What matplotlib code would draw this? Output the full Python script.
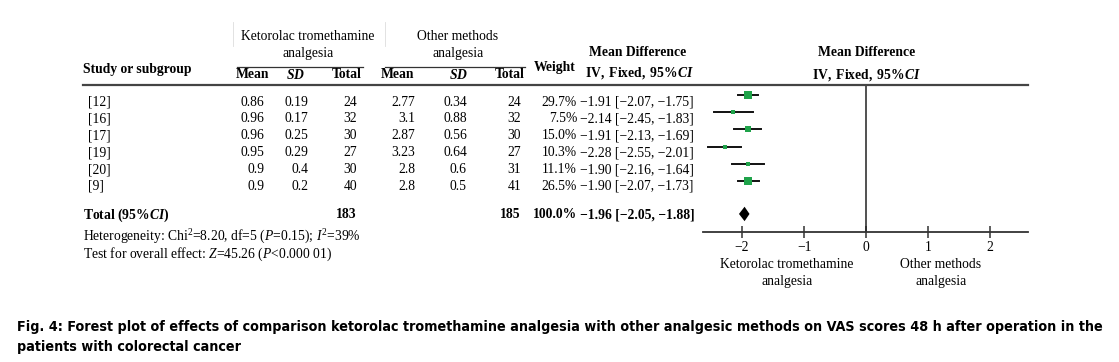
import matplotlib
matplotlib.use("Agg")
import matplotlib.pyplot as plt

plt.rcParams['font.family'] = ['Liberation Serif', 'DejaVu Serif']
plt.rcParams['mathtext.fontset'] = 'custom'
plt.rcParams['mathtext.rm'] = 'Liberation Serif'
plt.rcParams['mathtext.it'] = 'Liberation Serif:italic'
plt.rcParams['mathtext.bf'] = 'Liberation Serif:bold'
plt.rcParams['mathtext.bfit'] = 'Liberation Serif:italic:bold'

# data
studies = ["[12]", "[16]", "[17]", "[19]", "[20]", "[9]"]
k_mean = ["0.86", "0.96", "0.96", "0.95", "0.9", "0.9"]
k_sd = ["0.19", "0.17", "0.25", "0.29", "0.4", "0.2"]
k_total = [24, 32, 30, 27, 30, 40]
o_mean = ["2.77", "3.1", "2.87", "3.23", "2.8", "2.8"]
o_sd = ["0.34", "0.88", "0.56", "0.64", "0.6", "0.5"]
o_total = [24, 32, 30, 27, 31, 41]
weights = [29.7, 7.5, 15.0, 10.3, 11.1, 26.5]
md = [-1.91, -2.14, -1.91, -2.28, -1.90, -1.90]
ci_lo = [-2.07, -2.45, -2.13, -2.55, -2.16, -2.07]
ci_hi = [-1.75, -1.83, -1.69, -2.01, -1.64, -1.73]
total_weight = "100.0%"
total_md, total_lo, total_hi = -1.96, -2.05, -1.88
xticks = [-2, -1, 0, 1, 2]

W, H = 1119, 362
FS = 9.8
fig = plt.figure(figsize=(W / 100, H / 100), dpi=100)
fig.patch.set_facecolor("white")


def t(x, y, s, ha="left", bold=False, size=FS, **kw):
    return fig.text(x / W, 1 - y / H, s, ha=ha, va="center", size=size,
                    weight="bold" if bold else "normal", **kw)


def hline(x0, x1, y, lw=1.0, color="#333333"):
    fig.add_artist(plt.Line2D([x0 / W, x1 / W], [1 - y / H, 1 - y / H],
                              lw=lw, color=color))


def vline(x, y0, y1, lw=0.6, color="#dddddd"):
    fig.add_artist(plt.Line2D([x / W, x / W], [1 - y0 / H, 1 - y1 / H],
                              lw=lw, color=color))


def fmt(v):
    return ("%.2f" % v).replace("-", "\u2212")


# header
t(308, 37, "Ketorolac tromethamine", ha="center")
t(308, 53, "analgesia", ha="center")
t(458, 37, "Other methods", ha="center")
t(458, 53, "analgesia", ha="center")
hline(237, 363, 67, lw=0.9)
hline(385, 525, 67, lw=0.9)
vline(233, 22, 46)
vline(385, 22, 46)
t(83, 69, "Study or subgroup", bold=True)
t(253, 75, "Mean", ha="center", bold=True)
t(296, 75, r"$\mathbfit{SD}$", ha="center")
t(347, 75, "Total", ha="center", bold=True)
t(398, 75, "Mean", ha="center", bold=True)
t(459, 75, r"$\mathbfit{SD}$", ha="center")
t(510, 75, "Total", ha="center", bold=True)
t(555, 67, "Weight", ha="center", bold=True)
t(638, 53, "Mean Difference", ha="center", bold=True)
t(640, 73, r"$\mathbf{IV,\ Fixed,\ 95\%}\mathbfit{CI}$", ha="center")
t(867, 53, "Mean Difference", ha="center", bold=True)
t(867, 75, r"$\mathbf{IV,\ Fixed,\ 95\%}\mathbfit{CI}$", ha="center")
hline(83, 1028, 85, lw=1.6, color="#444444")

# rows
for i in range(len(studies)):
    y = 102 + 16.9 * i
    t(88, y, studies[i])
    t(264, y, k_mean[i], ha="right")
    t(308, y, k_sd[i], ha="right")
    t(357, y, str(k_total[i]), ha="right")
    t(415, y, o_mean[i], ha="right")
    t(467, y, o_sd[i], ha="right")
    t(521, y, str(o_total[i]), ha="right")
    t(577, y, "%.1f%%" % weights[i], ha="right")
    t(580, y, "%s [%s, %s]" % (fmt(md[i]), fmt(ci_lo[i]), fmt(ci_hi[i])))

# totals
t(83, 215, r"$\mathbf{Total\ (95\%}\mathbfit{CI}\mathbf{)}$")
t(357, 215, str(sum(k_total)), ha="right", bold=True)
t(521, 215, str(sum(o_total)), ha="right", bold=True)
t(577, 215, total_weight, ha="right", bold=True)
t(580, 215, "%s [%s, %s]" % (fmt(total_md), fmt(total_lo), fmt(total_hi)), bold=True)
t(83, 237, r"Heterogeneity: Chi$^2$=8.20, df=5 ($P$=0.15); $I^2$=39%")
t(83, 254, r"Test for overall effect: $Z$=45.26 ($P$<0.000 01)")

# forest plot
x0, x1, ytop, ybot = 703, 1028, 85, 232
ax = fig.add_axes([x0 / W, 1 - ybot / H, (x1 - x0) / W, (ybot - ytop) / H])
ax.set_xlim(-2.63, 2.61)
ax.set_ylim(7.97, -0.58)
ax.set_facecolor("none")
for s in ["top", "left", "right"]:
    ax.spines[s].set_visible(False)
ax.spines["bottom"].set_color("#333333")
ax.spines["bottom"].set_linewidth(1.3)
ax.set_yticks([])
ax.set_xticks(xticks)
ax.set_xticklabels([str(v).replace("-", "\u2212") for v in xticks], fontsize=FS)
ax.tick_params(axis="x", direction="inout", length=9, width=1.1,
               color="#333333", pad=2)
ax.axvline(0, color="#222222", lw=1.1)

for i in range(len(md)):
    ax.plot([ci_lo[i], ci_hi[i]], [i, i], color="#111111", lw=1.4)
    ax.plot(md[i], i, marker="s", color="#1fa34a", markersize=2 + 0.13 * weights[i],
            markeredgewidth=0)

yd = 6.92
ax.fill([total_lo, total_md, total_hi, total_md], [yd, yd - 0.42, yd, yd + 0.42],
        color="black", lw=0)

t(787, 265, "Ketorolac tromethamine", ha="center")
t(787, 281, "analgesia", ha="center")
t(941, 265, "Other methods", ha="center")
t(941, 281, "analgesia", ha="center")

# caption, scaled so the first line spans the same width as the reference
cap1 = t(17, 327, "Fig. 4: Forest plot of effects of comparison ketorolac tromethamine analgesia "
         "with other analgesic methods on VAS scores 48 h after operation in the",
         bold=True, size=10, family="DejaVu Sans", stretch="condensed")
cap2 = t(17, 347, "patients with colorectal cancer", bold=True, size=10,
         family="DejaVu Sans", stretch="condensed")
r = fig.canvas.get_renderer()
wpx = cap1.get_window_extent(r).width
new = 10 * 1078 / wpx
cap1.set_size(new)
cap2.set_size(new)

fig.savefig("out.png", dpi=100)
